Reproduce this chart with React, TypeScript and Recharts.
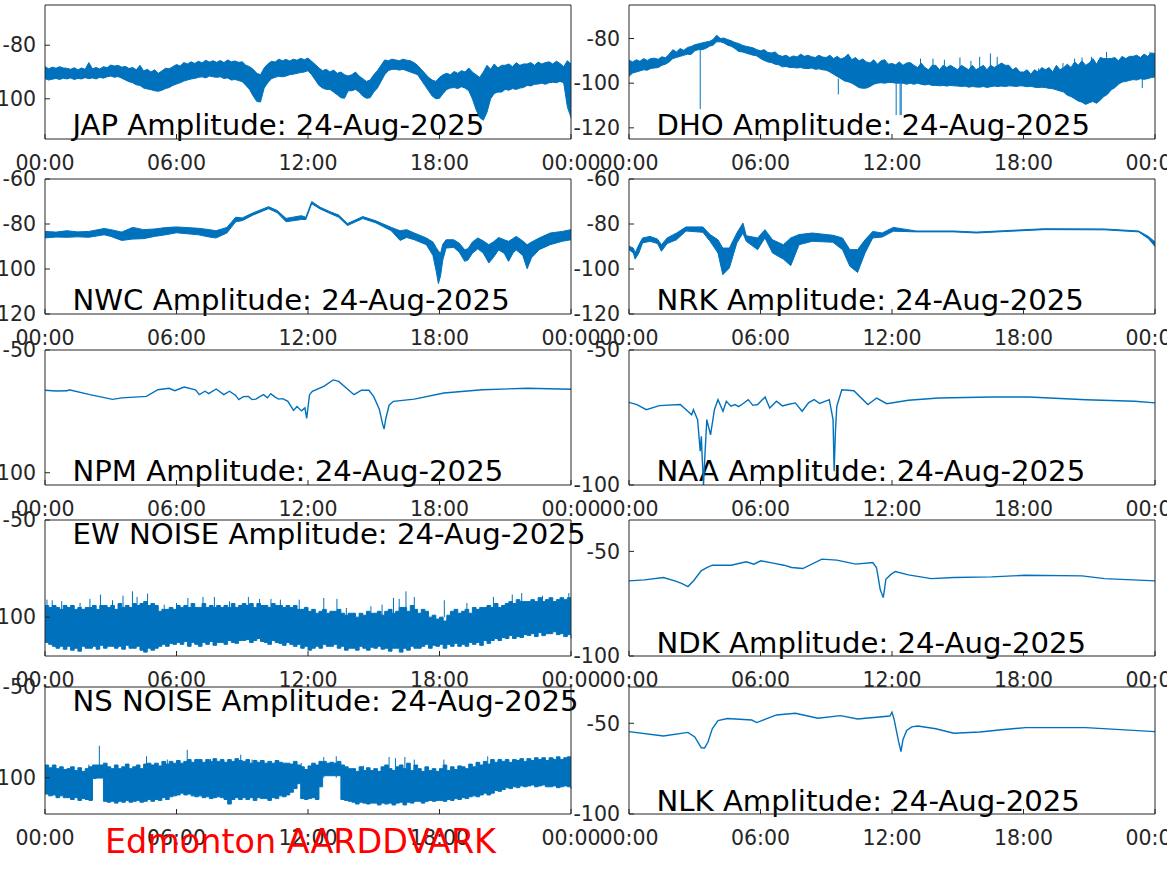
import {
  Area,
  ComposedChart,
  Line,
  XAxis,
  YAxis,
} from "recharts";

const BLUE = "#0072BD";
const AXIS = "#262626";
const FONT = "'DejaVu Sans', sans-serif";

const timeTicks = [0, 6, 12, 18, 24];
const timeLabels = ["00:00", "06:00", "12:00", "18:00", "00:00"];

// JAP, DHO, EW and NS: envelope read every ten minutes, six readings to a row
const japUpper = [
  -88, -88.8, -88.2, -88.6, -88, -88.5,
  -88.6, -89, -88.4, -89.2, -88.5, -89,
  -86.5, -88.8, -88.3, -88.9, -88, -88.4,
  -87.4, -87.8, -87.5, -88.2, -87.9, -88.7,
  -88.3, -89.2, -87.5, -89.6, -89, -90,
  -89.2, -90.5, -89.6, -88.6, -88.8, -88,
  -87.2, -87.8, -86.5, -87, -86.2, -86.8,
  -86, -86.6, -85.6, -86.3, -85.8, -86.4,
  -85.7, -86.5, -85.5, -86.2, -85.9, -86.4,
  -86.2, -87.5, -88, -89, -90.5, -91,
  -88.5, -87, -86, -86.3, -85.2, -85.8,
  -85.3, -85.9, -85.2, -85.6, -84.9, -85.4,
  -84.8, -86, -87.2, -88.5, -89.5, -89,
  -90, -89.3, -90.5, -90, -91, -91.5,
  -91, -90, -91.5, -92.5, -93.5, -93,
  -91, -89.5, -87.5, -85.5, -85.8, -85.2,
  -85.5, -85.8, -85.2, -85.6, -85.8, -86.5,
  -87.5, -89, -90.5, -92, -93, -93.5,
  -92, -91, -90.5, -91, -89.8, -90.5,
  -89.5, -90, -88.5, -90, -91, -92,
  -90, -87.5, -89, -87, -88.5, -87.5,
  -87.5, -87, -88, -86.5, -87.5, -87,
  -87, -86.5, -87.5, -86.3, -87, -86.5,
  -86.2, -87, -86, -86.8, -88, -85.8,
  -87,
];
const japLower = [
  -92.5, -93, -92.7, -92.4, -92.8, -92.3,
  -92.6, -92.2, -92.8, -92.4, -92.6, -92.1,
  -92.5, -92.2, -92.6, -92, -92.3, -91.8,
  -91.5, -92, -91.7, -92.3, -93, -93.6,
  -94, -94.8, -95, -96, -96.3, -96.6,
  -97, -97.2, -96.8, -96.2, -95.8, -95,
  -94.5, -94, -93.4, -93, -92.6, -92.4,
  -92, -91.8, -92.2, -91.5, -91.8, -92,
  -91.8, -92.4, -92.2, -93, -92.8, -93.2,
  -93.6, -95, -96.5, -99, -101, -101.2,
  -96, -94, -92.5, -92, -91.6, -91.8,
  -91.5, -91, -90.8, -90.5, -90.2, -90,
  -89.5, -91, -93, -95, -96, -96.5,
  -96.5, -97.5, -98.5, -99.6, -99.8, -97,
  -97, -96.5, -97.5, -99, -99.8, -99.6,
  -97.5, -96, -93.5, -91, -89.5, -89,
  -89, -89.3, -89, -89.5, -90, -90.5,
  -91, -93, -95, -97, -99, -100,
  -99.8, -98, -96.5, -96, -95.8, -96.2,
  -95.5, -96, -97, -100, -104, -107,
  -108, -105, -100, -98, -97.5, -97.5,
  -96.5, -96.8, -96.2, -96.5, -96, -95.8,
  -95, -95.2, -94.6, -94.5, -94.2, -94.6,
  -94, -93.8, -94, -93.5, -94, -103,
  -107,
];

const dhoUpper = [
  -89.7, -90.5, -89.5, -90.2, -89, -89.8,
  -89, -88.8, -89.3, -88.2, -88.6, -87,
  -85, -86, -84.5, -85.3, -84, -83.6,
  -82.8, -82.4, -82, -81.6, -81.3, -80.5,
  -78.5, -80, -79.8, -80.5, -81, -81.8,
  -82.2, -83, -83.5, -83.8, -84.2, -85,
  -85.5, -85, -86.2, -86.5, -86, -87.5,
  -88, -87.5, -88.5, -87.8, -88.3, -87,
  -88, -87.5, -88.2, -88.5, -87.5, -88.3,
  -88.5, -87.5, -89, -88, -89.2, -88.5,
  -87, -89.5, -88.5, -90, -89.2, -90.5,
  -91, -89.5, -91.5, -90, -89.5, -91.5,
  -91.2, -91.8, -90.5, -92, -91, -90.8,
  -92, -93, -91, -93, -94, -92,
  -92, -94, -92, -93, -92, -93,
  -94, -92, -93, -94, -92, -94,
  -93, -92, -94, -92, -93, -92,
  -91, -92, -92, -94, -93, -95,
  -95, -94, -96, -94, -95, -93,
  -94, -93, -95, -92, -94, -93,
  -91.5, -93, -90.5, -92, -90, -92,
  -91, -89, -91.5, -88.5, -89, -89,
  -89, -88.5, -90, -88, -89, -88,
  -88, -87.5, -88.5, -87, -88, -86.5,
  -86.7,
];
const dhoLower = [
  -96.9, -95.5, -95, -94.5, -94, -94.2,
  -93.4, -93.2, -93, -92, -91.5, -90.5,
  -89, -88.5, -88, -87.5, -87, -87.2,
  -85.5, -85, -85, -84.5, -83.5, -83,
  -81.5, -81.5, -82, -83, -83.5, -84.5,
  -85.8, -86, -86.5, -87, -87.5, -87.8,
  -89, -89.8, -90.5, -90.8, -91.5, -91.8,
  -92.7, -92.5, -93, -93, -93.2, -93,
  -93.4, -93.5, -93.2, -93.8, -93.6, -94,
  -94.2, -95, -96, -97, -98, -99,
  -99.4, -100, -101, -102, -102.3, -102.2,
  -101.5, -100.5, -100, -99.8, -100, -99.7,
  -99.7, -100, -100, -100, -100.5, -100,
  -100.5, -100, -100.5, -100.8, -100.5, -101,
  -101, -101.2, -101, -101.3, -101, -101.2,
  -101.3, -101.5, -101.3, -101.8, -101.5, -101.7,
  -101.8, -101.5, -101.9, -101.6, -101.3, -101.5,
  -101.3, -101.5, -101.2, -101.3, -101.5, -101.2,
  -101.3, -101.6, -101.4, -101.8, -102, -101.8,
  -102, -102.3, -102.5, -103, -103.5, -104,
  -105.4, -106, -107, -108, -108.5, -109.5,
  -108.8, -108.2, -109, -107.6, -106, -105,
  -103, -102, -100.5, -99.5, -99.2, -98.8,
  -98.4, -98.6, -98, -98.3, -98, -97.5,
  -97.2,
];
const dhoSpikeTimes = [
  3.25, 9.55, 9.9, 10.43, 12.19, 12.37, 12.42, 12.84, 13.3, 13.87, 14.39, 15.1,
  15.6, 16, 16.49, 16.8, 18.69, 19.8, 20.33, 20.67, 21.1, 21.79, 23.42, 23.77,
];
const dhoSpikeTops = [
  -84, -98, -89, -89.7, -100, -100, -100, -91, -89, -89, -89.5, -88.5,
  -90, -88.2, -86.7, -88.2, -93.4, -91, -89, -88.5, -88.2, -86, -98, -86,
];
const dhoSpikeFloors = [
  -111.6, -105, -96, -96, -114.3, -114.3, -114.3, -96, -96, -96, -96, -96,
  -96, -96, -96, -96, -97, -97, -97, -97, -97, -95, -102.2, -95,
];

const nwcTimes = [
  0, 0.5, 1, 1.5, 2, 2.7, 3, 3.5, 4, 4.5,
  5, 5.5, 6, 7, 7.5, 7.8, 8.3, 8.7, 9, 9.5,
  10.2, 10.6, 11, 11.7, 11.9, 12.17, 12.55, 13, 13.4, 13.8,
  14.5, 15.1, 15.8, 16.2, 16.5, 16.85, 17.4, 17.7, 17.85, 17.95,
  18.05, 18.15, 18.3, 18.65, 18.9, 19.15, 19.3, 19.5, 19.75, 20,
  20.25, 20.45, 20.7, 20.95, 21.15, 21.35, 21.5, 21.8, 22, 22.2,
  22.55, 23.05, 23.6, 24,
];
const nwcUpper = [
  -83.3, -83.6, -83, -83.5, -83.3, -82, -82.5, -83.6, -81.5, -82.5,
  -82.2, -81.6, -81.3, -81.9, -82.5, -83, -81.5, -77, -77.3, -75,
  -72.3, -74, -77.5, -76.3, -77, -70, -72.5, -74.5, -76, -79.8,
  -76.7, -78.6, -81.5, -83, -82.5, -84, -86.2, -88, -90.5, -92,
  -93, -89, -87, -87, -88.5, -91.4, -91, -88, -86.2, -87.5,
  -89.2, -88, -86, -87, -87.7, -86.5, -85.5, -87.5, -89.2, -88,
  -86.2, -84, -83.3, -82.5,
];
const nwcLower = [
  -86.2, -85.8, -85.9, -85.7, -85.9, -84.8, -85.5, -87.3, -86.7, -86.5,
  -85.5, -84.8, -83.9, -84.8, -85.8, -86.2, -84, -79, -78.5, -76,
  -73.2, -75, -79, -78, -78, -71, -73.3, -75.3, -77, -80.7,
  -77.6, -79.5, -83, -87.3, -86, -87, -89.2, -94, -101, -106.5,
  -103, -96, -90.7, -90.4, -92.5, -96.6, -96, -93, -91, -93,
  -97.3, -95, -91.5, -93, -96.6, -93, -91.5, -94, -99.9, -95,
  -91.4, -89.2, -87.7, -87,
];

const nrkTimes = [
  0, 0.2, 0.28, 0.45, 0.62, 0.96, 1.3, 1.48, 1.74, 2.17,
  2.6, 3.37, 3.7, 4.06, 4.28, 4.58, 4.92, 5.2, 5.35, 5.87,
  6.2, 6.55, 7.04, 7.38, 7.76, 8.36, 9.3, 9.74, 10.08, 10.43,
  10.77, 11.12, 11.55, 12.06, 13.1, 14.82, 15.85, 17.05, 18.95, 21.7,
  23.25, 23.7, 24,
];
const nrkUpper = [
  -89.9, -90.7, -92.9, -89.2, -86.2, -85.5, -86.7, -89.2, -86.2, -84,
  -81.3, -81.3, -84.7, -87, -90.7, -90.7, -84, -79.6, -85.2, -86.2,
  -82.5, -87, -89.2, -86.2, -84.7, -84, -85, -86.2, -91.4, -91.4,
  -87, -83.3, -84, -81.5, -83.1, -83.1, -83.6, -83, -82.1, -82.2,
  -83.1, -85.5, -88,
];
const nrkLower = [
  -91.4, -92.9, -95.6, -92.9, -88.4, -87.7, -88.7, -92.1, -88.7, -87,
  -83.1, -83.7, -87.7, -92.9, -102.5, -99.6, -88.4, -84, -87.7, -91.4,
  -86.2, -92.9, -95.6, -98.5, -89.2, -87.7, -88.1, -91.4, -98.8, -101.5,
  -92.9, -86.2, -85.8, -83.2, -83.5, -83.5, -84, -83.4, -82.5, -82.6,
  -83.5, -86.5, -90,
];

const npmTimes = [
  0, 0.5, 1.02, 1.1, 2.05, 3.08, 3.5, 4.63, 5.15, 5.66,
  5.92, 6.35, 6.87, 7.04, 7.3, 7.47, 7.81, 8.16, 8.42, 8.7,
  8.84, 9.05, 9.28, 9.45, 9.62, 9.8, 9.97, 10.15, 10.3, 10.5,
  10.66, 10.85, 11.08, 11.34, 11.5, 11.7, 11.86, 11.94, 12.07, 12.2,
  12.72, 13.15, 13.4, 14.1, 14.44, 14.78, 15, 15.25, 15.4, 15.47,
  15.55, 15.7, 15.9, 16.85, 18.2, 19.95, 22, 24,
];
const npmValues = [
  -66.4, -66.7, -66.6, -66.2, -68.2, -70.1, -69.5, -68.9, -66.2, -65.6,
  -66.6, -65.1, -66.2, -68.2, -66.8, -67.8, -65.9, -68.2, -66.8, -68.5,
  -70.2, -69, -68.9, -70.2, -70, -69, -68.2, -69.5, -67.8, -69.2,
  -70, -69.8, -70.9, -74.6, -73, -74.8, -73.6, -77.9, -68.2, -66.8,
  -64.8, -62.2, -62.8, -68.2, -66.4, -66.4, -69, -74, -80, -82.2,
  -78, -72.5, -70.9, -70, -67.5, -66.2, -65.6, -66,
];

const naaTimes = [
  0, 0.36, 0.79, 1.39, 2.34, 2.86, 2.94, 3.13, 3.25, 3.3,
  3.33, 3.4, 3.47, 3.55, 3.72, 3.9, 4.06, 4.29, 4.44, 4.65,
  4.84, 5, 5.18, 5.44, 5.65, 5.87, 6.21, 6.42, 6.73, 7,
  7.25, 7.59, 7.9, 8.2, 8.45, 8.7, 9.14, 9.31, 9.36, 9.42,
  9.48, 9.71, 10.26, 10.9, 11.3, 11.76, 12.75, 14.13, 16.54, 18.26,
  20.85, 23.08, 24,
];
const naaValues = [
  -69.4, -70.2, -72.1, -70.6, -70.2, -74, -72.1, -75.8, -87.5, -82,
  -88, -100, -88, -75.8, -81.4, -72, -68.4, -72.7, -69, -70.8,
  -70.2, -71, -70, -68.4, -70.5, -70.2, -67.4, -71.5, -69, -70.7,
  -70.2, -69.6, -72.7, -69.5, -68.4, -69.8, -68.4, -75.8, -94.9, -80,
  -70.9, -64.7, -65.1, -70.2, -67.8, -69.9, -68.6, -67.8, -67.4, -67.4,
  -68.4, -69, -69.6,
];

const ewUpper = [
  -94, -95, -94, -95, -96, -94,
  -95, -94, -96, -95, -96, -95,
  -95, -94, -96, -94, -94, -95,
  -94, -96, -93, -95, -94, -95,
  -93, -94, -93, -92, -94, -93,
  -94, -97, -96, -96, -95, -96,
  -94, -95, -94, -95, -93, -95,
  -95, -93, -95, -94, -95, -94,
  -95, -94, -95, -93, -95, -94,
  -93, -94, -93, -95, -93, -94,
  -94, -95, -93, -94, -94, -95,
  -94, -95, -94, -96, -96, -95,
  -97, -96, -98, -97, -96, -98,
  -97, -97, -96, -98, -99, -98,
  -98, -100, -98, -99, -97, -98,
  -98, -97, -99, -97, -96, -98,
  -97, -95, -95, -97, -94, -96,
  -98, -96, -97, -100, -99, -101,
  -100, -102, -99, -97, -96, -98,
  -97, -96, -98, -95, -96, -95,
  -95, -94, -95, -93, -95, -94,
  -93, -92, -93, -91, -92, -92,
  -92, -91, -92, -90, -92, -91,
  -90, -92, -91, -90, -91, -90,
  -90,
];
const ewLower = [
  -113, -114, -115, -116, -115, -116.5,
  -115, -117, -116, -117.5, -115, -116,
  -116, -115, -116.5, -114.5, -116, -115,
  -115, -116, -115, -116.5, -114.5, -116,
  -116, -115, -117, -118, -116, -117,
  -116, -115, -114, -115, -113.5, -114,
  -113, -114, -112.5, -115, -113, -114,
  -115, -113, -114, -112.5, -114.5, -113,
  -113, -114, -112, -113, -113.5, -112,
  -112, -111.5, -113, -112, -111, -112.5,
  -113, -114, -112, -113, -113.5, -114.5,
  -113, -114, -115, -114, -116, -115,
  -117, -116, -115, -116, -114, -115,
  -115, -114, -116, -115, -117, -116,
  -116, -117, -115, -116, -117, -115.5,
  -116, -115, -116.5, -116, -117.5, -116,
  -116, -118, -116, -117, -115, -116,
  -116, -115, -114, -116, -114.5, -115,
  -114, -116, -114, -115, -113.5, -115,
  -114, -115, -113, -114, -113, -114.5,
  -112, -113.5, -112, -111, -112, -110.5,
  -111, -109.5, -111, -110, -110.5, -109,
  -109.5, -108.5, -110, -108, -109.5, -108.5,
  -108.5, -107.5, -109, -108.5, -110, -109,
  -111,
];
const ewSpikeTimes = [
  0.09, 0.33, 0.76, 1.6, 2.05, 2.53, 3.08, 3.56, 3.99, 4.2, 4.68, 5.44,
  6, 6.52, 7.21, 7.73, 8.42, 9.28, 9.79, 10.31, 10.74, 11.6, 12.72, 13.32,
  13.75, 14.87, 15.38, 15.9, 16.16, 16.47, 16.85, 18.22, 19.25, 20.46, 21.32, 21.75,
  22.7, 23.9,
];
const ewSpikeTops = [
  -91, -91.3, -91.8, -92.7, -90.6, -88.4, -91.3, -88.9, -86.7, -89.6, -87.9, -93.6,
  -92.7, -90.1, -89.6, -89.6, -91.9, -89.6, -90.6, -90.6, -91, -91, -90.1, -90.6,
  -95.3, -94.4, -93.6, -90.1, -90.6, -86.7, -89.6, -91.3, -92.7, -89.6, -88.4, -87.6,
  -89, -87.6,
];

const nsUpper = [
  -93, -94.5, -93, -95, -94, -95.5,
  -95, -94, -96, -94.5, -96.5, -95,
  -94, -93, -93, -93, -92, -94,
  -95, -93, -95, -94, -92.5, -95,
  -94, -93, -95, -92.5, -92, -93,
  -92, -93.5, -91, -92.5, -91, -92,
  -90.5, -92, -91, -90, -91.5, -90,
  -90, -91.5, -90, -91, -89.5, -91,
  -90, -91.5, -90, -91, -89.5, -90.5,
  -91, -90, -92, -90.5, -91.5, -90.5,
  -92, -91, -92, -90.5, -91.5, -92,
  -92, -92.5, -91, -93, -94, -95.5,
  -93.5, -92, -93, -91, -91, -92,
  -91.5, -92, -91, -93, -94, -95,
  -95, -96.5, -94, -96, -94.5, -96,
  -95, -96.5, -94, -93, -95, -96,
  -94, -93, -95, -92, -96, -93,
  -95, -96.5, -94, -96, -95, -96.5,
  -95, -93, -96, -94, -95.5, -93.5,
  -94, -95, -92.5, -94, -91.5, -93,
  -91, -92.5, -90, -91.5, -90, -91,
  -90, -91.5, -90, -90.5, -89.5, -91,
  -89.5, -90.5, -89, -90, -89, -90.5,
  -89, -90, -88.5, -90, -89, -88.5,
  -88.5,
];
const nsLower = [
  -109, -110, -109.5, -111, -110, -111,
  -111, -112, -111, -112.5, -111.5, -112,
  -112.5, -100.5, -100.2, -100.2, -113, -113.5,
  -113, -114, -113, -113.5, -112.5, -113.5,
  -113, -112.5, -113.5, -113, -112, -113,
  -112, -112.5, -111, -112, -110.5, -110,
  -109.5, -108.5, -109.5, -109, -110, -110.5,
  -110, -111, -110.5, -111.5, -111, -110.5,
  -111, -112, -114.5, -112, -111, -112,
  -111, -112, -111, -112.5, -111, -111.5,
  -111.5, -112.5, -111, -111.5, -110, -110.5,
  -109.5, -108, -106, -103.3, -111.5, -112,
  -111.5, -111, -112, -105, -98.9, -98.9,
  -98.9, -98.9, -98.9, -112, -112.5, -113,
  -113.5, -114.5, -113.5, -114, -114.5, -114,
  -114, -115, -114, -114.5, -114, -115,
  -114, -113.5, -115, -113.5, -114, -113,
  -113, -114, -113, -112.5, -113, -112.5,
  -112.5, -113, -112, -112.5, -111.5, -112,
  -111, -111.5, -110.5, -110, -110.5, -109.5,
  -108.5, -109.5, -108.5, -107, -107.5, -106.5,
  -105.5, -106, -105, -105.5, -104.5, -105,
  -104.5, -104, -105, -104.5, -104, -105,
  -105, -104.5, -105.5, -105, -104.5, -105,
  -106,
];
const nsSpikeTimes = [
  2, 2.48, 4.63, 5.58, 6.49, 7.55, 8.93, 9.45, 11.69, 12.72, 13.29, 14.53,
  15.7, 15.99, 16.42, 16.85, 18.2, 20.2, 22, 23.2,
];
const nsSpikeTops = [
  -92.8, -82.4, -88.2, -90, -84.6, -89.7, -87.3, -90, -91.9, -88.6, -88.2, -93.4,
  -88.6, -89.2, -88.6, -90, -90, -88.2, -89.2, -89.2,
];

const ndkTimes = [
  0, 0.71, 1.57, 2.09, 2.4, 2.69, 2.95, 3.29, 3.55, 3.8,
  4.66, 5.35, 5.7, 6.01, 6.57, 7.07, 7.42, 7.93, 8.8, 9.48,
  10.35, 11.12, 11.29, 11.38, 11.46, 11.6, 11.66, 11.72, 11.95, 12.15,
  12.75, 13.79, 14.82, 16.54, 18.09, 20.67, 21.7, 24,
];
const ndkValues = [
  -64.1, -63.6, -62.5, -64.1, -65.3, -66.8, -64, -59.3, -57.8, -56.6,
  -56.6, -55, -56.1, -54.5, -55.6, -56.6, -57.7, -58.2, -53.7, -54.2,
  -56.1, -55.3, -57.7, -63, -68.1, -72.1, -68, -63.3, -61, -59.6,
  -61.2, -63, -62.5, -62.2, -61.4, -61.7, -63, -64.1,
];

const nlkTimes = [
  0, 1.57, 2.69, 3, 3.15, 3.3, 3.45, 3.6, 3.8, 4.06,
  4.49, 5.6, 5.83, 6.73, 7.59, 8.62, 9.65, 10.43, 11.9, 12,
  12.1, 12.2, 12.3, 12.41, 12.5, 12.67, 12.9, 13.18, 14, 14.82,
  16, 17, 18.09, 20.84, 24,
];
const nlkValues = [
  -54.6, -57, -55, -57.5, -60.5, -63.5, -63.6, -60.5, -53, -48.5,
  -47.4, -48.2, -49.6, -45.4, -44.5, -47.2, -45.8, -47.6, -46, -43.9,
  -48, -54, -60, -65.6, -59, -54, -52, -51.5, -53, -55.5,
  -54.8, -53.6, -52.4, -52.4, -54.6,
];

const tenMinutes = (values: number[]) => values.map((_, i) => i / 6);

const bandRows = (times: number[], upper: number[], lower: number[]) =>
  times.map((t, i) => ({ t, band: [lower[i], upper[i]] }));

const lineRows = (times: number[], values: number[]) =>
  times.map((t, i) => ({ t, value: values[i] }));

const spikeRows = (times: number[], tops: number[], floors: number[] | number) =>
  times.flatMap((t, i) => [
    { t, value: tops[i] },
    { t, value: typeof floors === "number" ? floors : floors[i] },
    { t, value: null },
  ]);

const MARGIN = { top: 13, right: 39, bottom: 39, left: 64 };
const LEFT_COL = 45;
const RIGHT_COL = 629;
const PLOT_WIDTH = 526;

type PanelProps = {
  left: number;
  top: number;
  height: number;
  domain: [number, number];
  yTicks: number[];
  title: string;
  titleX: number;
  titleY: number;
  rows: any[];
  spikes?: any[];
  step?: boolean;
};

function Panel({ left, top, height, domain, yTicks, title, titleX, titleY, rows, spikes, step }: PanelProps) {
  const chartLeft = left - 65;
  const chartTop = top - 14;
  const isBand = rows[0].band !== undefined;
  const tickStyle = { fontSize: 20.5, fontFamily: FONT, fill: AXIS };
  return (
    <div style={{ position: "absolute", left: chartLeft, top: chartTop }}>
      <ComposedChart
        width={65 + PLOT_WIDTH + 40}
        height={14 + height + 40}
        data={rows}
        margin={MARGIN}
        style={{ overflow: "visible" }}
      >
        <XAxis
          xAxisId="bottom"
          dataKey="t"
          type="number"
          domain={[0, 24]}
          ticks={timeTicks}
          interval={0}
          height={1}
          tickSize={-5}
          tickMargin={21}
          tickFormatter={(_: number, i: number) => timeLabels[i]}
          tick={tickStyle}
          stroke={AXIS}
        />
        <XAxis
          xAxisId="top"
          orientation="top"
          dataKey="t"
          type="number"
          domain={[0, 24]}
          ticks={timeTicks}
          interval={0}
          height={1}
          tickSize={-5}
          tick={false}
          stroke={AXIS}
        />
        <YAxis
          yAxisId="left"
          type="number"
          domain={domain}
          ticks={yTicks}
          interval={0}
          width={1}
          tickSize={-5}
          tickMargin={14}
          tick={tickStyle}
          stroke={AXIS}
        />
        <YAxis
          yAxisId="right"
          orientation="right"
          type="number"
          domain={domain}
          ticks={yTicks}
          interval={0}
          width={1}
          tickSize={-5}
          tick={false}
          stroke={AXIS}
        />
        {isBand ? (
          <Area
            xAxisId="bottom"
            yAxisId="left"
            dataKey="band"
            type={step ? "stepAfter" : "linear"}
            stroke={BLUE}
            strokeWidth={1}
            fill={BLUE}
            fillOpacity={1}
            dot={false}
            activeDot={false}
            isAnimationActive={false}
          />
        ) : (
          <Line
            xAxisId="bottom"
            yAxisId="left"
            dataKey="value"
            type="linear"
            stroke={BLUE}
            strokeWidth={1.4}
            dot={false}
            activeDot={false}
            isAnimationActive={false}
          />
        )}
        {spikes && (
          <Line
            xAxisId="bottom"
            yAxisId="left"
            data={spikes}
            dataKey="value"
            type="linear"
            stroke={BLUE}
            strokeWidth={1}
            dot={false}
            activeDot={false}
            isAnimationActive={false}
          />
        )}
        <text x={titleX - chartLeft} y={titleY - chartTop} fontSize={29.15} fontFamily={FONT} fill="#000000">
          {title}
        </text>
      </ComposedChart>
    </div>
  );
}

export default function App() {
  return (
    <div style={{ position: "absolute", left: 0, top: 0, width: 1167, height: 875, overflow: "hidden", background: "#fff" }}>
      <Panel left={LEFT_COL} top={5} height={134} domain={[-115, -65]} yTicks={[-100, -80]}
        title="JAP Amplitude: 24-Aug-2025" titleX={72.5} titleY={135}
        rows={bandRows(tenMinutes(japUpper), japUpper, japLower)} />
      <Panel left={RIGHT_COL} top={5} height={134} domain={[-125, -65]} yTicks={[-120, -100, -80]}
        title="DHO Amplitude: 24-Aug-2025" titleX={656.5} titleY={135}
        rows={bandRows(tenMinutes(dhoUpper), dhoUpper, dhoLower)}
        spikes={spikeRows(dhoSpikeTimes, dhoSpikeTops, dhoSpikeFloors)} />
      <Panel left={LEFT_COL} top={179} height={135} domain={[-120, -60]} yTicks={[-120, -100, -80, -60]}
        title="NWC Amplitude: 24-Aug-2025" titleX={72.5} titleY={310}
        rows={bandRows(nwcTimes, nwcUpper, nwcLower)} />
      <Panel left={RIGHT_COL} top={179} height={135} domain={[-120, -60]} yTicks={[-120, -100, -80, -60]}
        title="NRK Amplitude: 24-Aug-2025" titleX={656.5} titleY={310}
        rows={bandRows(nrkTimes, nrkUpper, nrkLower)} />
      <Panel left={LEFT_COL} top={350} height={135} domain={[-105, -50]} yTicks={[-100, -50]}
        title="NPM Amplitude: 24-Aug-2025" titleX={72.5} titleY={481}
        rows={lineRows(npmTimes, npmValues)} />
      <Panel left={RIGHT_COL} top={350} height={135} domain={[-100, -50]} yTicks={[-100, -50]}
        title="NAA Amplitude: 24-Aug-2025" titleX={656.5} titleY={481}
        rows={lineRows(naaTimes, naaValues)} />
      <Panel left={LEFT_COL} top={520} height={136} domain={[-120, -50]} yTicks={[-100, -50]}
        title="EW NOISE Amplitude: 24-Aug-2025" titleX={72.5} titleY={544} step
        rows={bandRows(tenMinutes(ewUpper), ewUpper, ewLower)}
        spikes={spikeRows(ewSpikeTimes, ewSpikeTops, -100)} />
      <Panel left={RIGHT_COL} top={520} height={136} domain={[-100, -35]} yTicks={[-100, -50]}
        title="NDK Amplitude: 24-Aug-2025" titleX={656.5} titleY={653}
        rows={lineRows(ndkTimes, ndkValues)} />
      <Panel left={LEFT_COL} top={687} height={127} domain={[-120, -50]} yTicks={[-100, -50]}
        title="NS NOISE Amplitude: 24-Aug-2025" titleX={72.5} titleY={711} step
        rows={bandRows(tenMinutes(nsUpper), nsUpper, nsLower)}
        spikes={spikeRows(nsSpikeTimes, nsSpikeTops, -100)} />
      <Panel left={RIGHT_COL} top={687} height={127} domain={[-100, -30]} yTicks={[-100, -50]}
        title="NLK Amplitude: 24-Aug-2025" titleX={656.5} titleY={811}
        rows={lineRows(nlkTimes, nlkValues)} />
      <svg width={1167} height={875} style={{ position: "absolute", left: 0, top: 0, pointerEvents: "none" }}>
        <text x={105} y={853} fontSize={33.4} fontFamily={FONT} fill="#ff0000">
          Edmonton AARDDVARK
        </text>
      </svg>
    </div>
  );
}
